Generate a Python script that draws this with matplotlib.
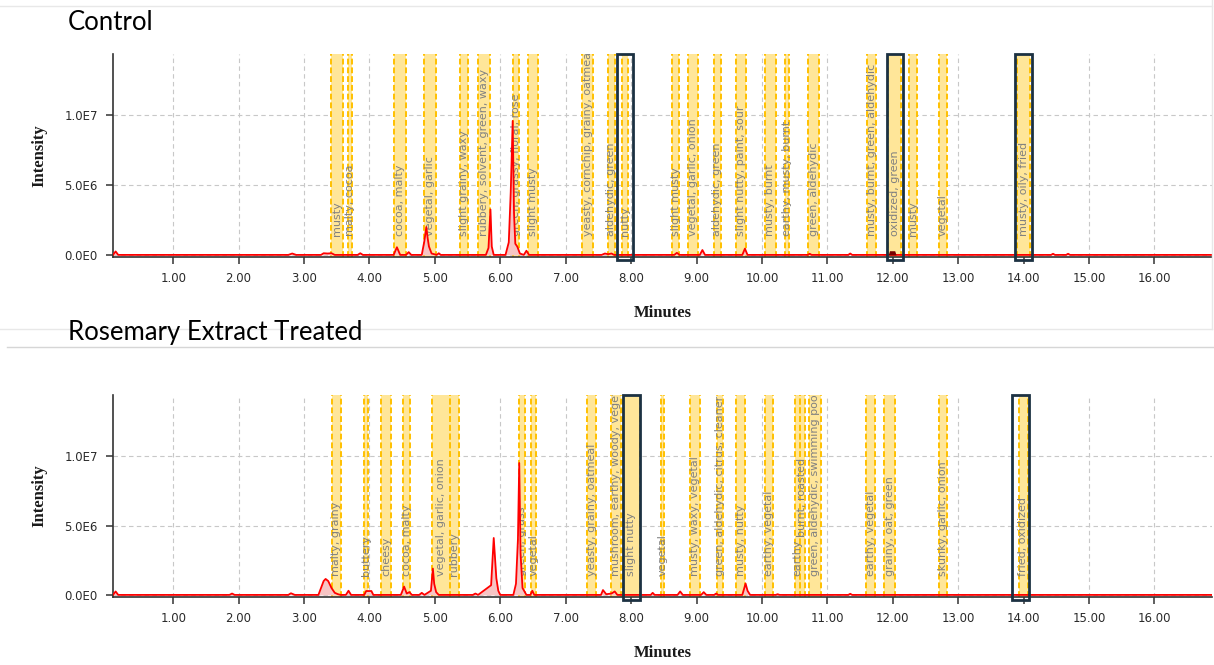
import matplotlib
matplotlib.use("Agg")
import matplotlib.pyplot as plt
from matplotlib.patches import Rectangle
from matplotlib.lines import Line2D

# chromatogram traces, time in minutes, intensity in units of 1e6
ctrl_time = [0.08, 0.12, 0.16, 0.25,
             2.76, 2.82, 2.88,
             3.26, 3.30, 3.36, 3.42, 3.47,
             3.82, 3.86, 3.90,
             4.37, 4.42, 4.47,
             4.56, 4.60, 4.64,
             4.80, 4.84, 4.87, 4.89, 4.91, 4.95,
             5.03, 5.06, 5.09,
             5.78, 5.82, 5.85, 5.87, 5.90,
             6.08, 6.13, 6.16, 6.19, 6.21, 6.23, 6.26, 6.30,
             6.36, 6.40, 6.44,
             7.55, 7.60, 7.65, 7.70, 7.74,
             8.66, 8.70, 8.74,
             9.05, 9.09, 9.13,
             9.70, 9.74, 9.78,
             10.70, 10.73, 10.76,
             11.32, 11.35, 11.38,
             14.42, 14.45, 14.48,
             14.65, 14.68, 14.71,
             16.88]
ctrl_int = [0.0, 0.25, 0.0, 0.0,
            0.0, 0.1, 0.0,
            0.0, 0.12, 0.1, 0.12, 0.0,
            0.0, 0.12, 0.0,
            0.0, 0.55, 0.0,
            0.0, 0.2, 0.0,
            0.0, 1.0, 2.0, 1.2, 0.6, 0.1,
            0.0, 0.12, 0.0,
            0.0, 0.5, 3.25, 0.6, 0.0,
            0.0, 0.9, 4.5, 9.6, 3.0, 0.8, 0.6, 0.1,
            0.0, 0.3, 0.0,
            0.0, 0.1, 0.05, 0.1, 0.0,
            0.0, 0.15, 0.0,
            0.0, 0.35, 0.0,
            0.0, 0.45, 0.0,
            0.0, 0.08, 0.0,
            0.0, 0.1, 0.0,
            0.0, 0.08, 0.0,
            0.0, 0.08, 0.0,
            0.0]

rose_time = [0.08, 0.12, 0.16, 0.25,
             1.86, 1.90, 1.94,
             2.76, 2.80, 2.86,
             3.22, 3.26, 3.30, 3.33, 3.37, 3.42, 3.47, 3.52, 3.56,
             3.64, 3.68, 3.72,
             3.92, 3.95, 4.03, 4.06,
             4.48, 4.53, 4.57, 4.61, 4.65,
             4.76, 4.80, 4.84,
             4.94, 4.97, 4.99, 5.02, 5.06,
             5.58, 5.62, 5.66,
             5.86, 5.90, 5.94, 5.97, 6.00,
             6.20, 6.24, 6.27, 6.29, 6.31, 6.34, 6.40,
             6.46, 6.49, 6.52,
             7.54, 7.57, 7.62, 7.70, 7.75, 7.79,
             8.30, 8.33, 8.36,
             8.71, 8.75, 8.79,
             9.07, 9.11, 9.15,
             9.27, 9.30, 9.33,
             9.70, 9.75, 9.78, 9.82,
             10.21, 10.24, 10.27,
             11.32, 11.35, 11.38,
             16.88]
rose_int = [0.0, 0.25, 0.0, 0.0,
            0.0, 0.1, 0.0,
            0.0, 0.12, 0.0,
            0.0, 0.5, 1.0, 1.15, 1.0, 0.5, 0.15, 0.05, 0.0,
            0.0, 0.3, 0.0,
            0.0, 0.28, 0.28, 0.0,
            0.0, 0.6, 0.1, 0.2, 0.0,
            0.0, 0.15, 0.0,
            0.3, 1.9, 0.8, 0.2, 0.0,
            0.0, 0.1, 0.0,
            0.7, 4.1, 1.2, 0.3, 0.0,
            0.0, 0.8, 4.0, 9.5, 3.0, 0.5, 0.0,
            0.0, 0.3, 0.0,
            0.0, 0.35, 0.05, 0.1, 0.25, 0.0,
            0.0, 0.15, 0.0,
            0.0, 0.25, 0.0,
            0.0, 0.2, 0.0,
            0.0, 0.1, 0.0,
            0.0, 0.82, 0.3, 0.0,
            0.0, 0.05, 0.0,
            0.0, 0.08, 0.0,
            0.0]

# highlighted (selected) peak in the control run
hl_time = [11.93, 11.95, 12.03, 12.05]
hl_int = [0.0, 0.3, 0.3, 0.0]

# aroma windows: start, end, descriptor
ctrl_start = [3.42, 3.67, 4.38, 4.84, 5.39, 5.66, 6.20, 6.42, 7.25, 7.65, 7.86, 8.63,
              8.87, 9.26, 9.60, 10.04, 10.35, 10.71, 11.60, 11.93, 12.25, 12.70, 13.90]
ctrl_end = [3.59, 3.74, 4.56, 5.02, 5.51, 5.85, 6.29, 6.58, 7.42, 7.75, 7.96, 8.73,
            9.03, 9.37, 9.75, 10.21, 10.41, 10.87, 11.75, 12.13, 12.37, 12.83, 14.10]
ctrl_labels = ["musty", "malty, cocoa", "cocoa, malty", "vegetal, garlic",
               "slight grainy, waxy", "rubbery, solvent, green, waxy",
               "green, grassy, floral, rose", "slight musty",
               "yeasty, cornchip, grainy, oatmeal", "aldehydic, green", "nutty",
               "slight musty", "vegetal, garlic, onion", "aldehydic, green",
               "slight nutty, paint, sour", "musty, burnt", "earthy, musty, burnt",
               "green, aldehydic", "musty, burnt, green, aldehydic",
               "oxidized, green", "musty", "vegetal", "musty, oily, fried"]
ctrl_boxes = [(7.79, 8.03), (11.91, 12.16), (13.87, 14.13)]

rose_start = [3.43, 3.92, 4.18, 4.52, 4.95, 5.23, 6.29, 6.47, 7.32, 7.69, 7.88, 8.45,
              8.90, 9.32, 9.61, 10.05, 10.50, 10.58, 10.72, 11.59, 11.87, 12.70, 13.93]
rose_end = [3.56, 3.98, 4.33, 4.62, 5.23, 5.37, 6.38, 6.55, 7.47, 7.85, 8.13, 8.50,
            9.05, 9.41, 9.74, 10.17, 10.58, 10.66, 10.90, 11.73, 12.04, 12.83, 14.06]
rose_labels = ["malty, grainy", "buttery", "cheesy", "cocoa, malty",
               "vegetal, garlic, onion", "rubbery", "green, grass", "vegetal",
               "yeasty, grainy, oatmeal", "mushroom, earthy, woody, vegetal",
               "slight nutty", "vegetal", "musty, waxy, vegetal",
               "green, aldehydic, citrus, cleaner", "musty, nutty", "earthy, vegetal",
               "earthy", "burnt, roasted", "green, aldehydic, swimming pool",
               "earthy, vegetal", "grainy, oat, green", "skunky, garlic, onion",
               "fried, oxidized"]
# label baseline heights (1e6); one descriptor sits higher to clear its neighbour
rose_label_y = [1.35] * 17 + [4.2] + [1.35] * 5
rose_boxes = [(7.88, 8.13), (13.83, 14.09)]

x_ticks = list(range(1, 17))
y_ticks = [0, 5e6, 1e7]
y_ticklabels = ["0.0E0", "5.0E6", "1.0E7"]

W, H = 1214, 665
fig = plt.figure(figsize=(W / 100, H / 100), dpi=100)


def draw_panel(ax, t, y, starts, ends, labels, boxes, label_y=None):
    if label_y is None:
        label_y = [1.35] * len(labels)
    ax.set_xlim(0.08, 16.88)
    ax.set_ylim(-0.15e6, 14.4e6)
    ax.set_axisbelow(True)
    for s, e, lab, ly in zip(starts, ends, labels, label_y):
        ax.axvspan(s, e, color="#ffe699", lw=0, zorder=1)
        for xv in (s, e):
            ax.axvline(xv, color="#ffc000", lw=1.4, ls=(0, (3, 1.5)), zorder=1.5)
        ax.text((s + e) / 2, ly * 1e6, lab, rotation=90, ha="center", va="bottom",
                fontsize=8, color="#808080", clip_on=True, zorder=2)
    yy = [v * 1e6 for v in y]
    ax.fill_between(t, 0, yy, color="#f7c4c4", lw=0, zorder=3)
    ax.plot(t, yy, color="#ff0000", lw=1.3, zorder=4)
    for x0, x1 in boxes:
        ax.add_patch(Rectangle((x0, -0.015), x1 - x0, 1.015,
                               transform=ax.get_xaxis_transform(), fill=False,
                               ec="#1c3142", lw=2, clip_on=False, zorder=6))
    ax.set_xticks(x_ticks)
    ax.set_xticklabels([f"{v:.2f}" for v in x_ticks])
    ax.set_yticks(y_ticks)
    ax.set_yticklabels(y_ticklabels)
    ax.grid(True, color="#c8c8c8", ls=(0, (4, 3)), lw=0.8)
    for side in ("top", "right"):
        ax.spines[side].set_visible(False)
    for side in ("left", "bottom"):
        ax.spines[side].set_color("#333333")
        ax.spines[side].set_linewidth(1.2)
    ax.tick_params(direction="out", length=5, width=1.1, color="#333333",
                   labelsize=8.5, labelcolor="#2a2a2a", pad=6)
    ax.set_xlabel("Minutes", family="Liberation Serif", fontweight="bold",
                  fontsize=12, color="#1a1a1a", labelpad=14)
    ax.set_ylabel("Intensity", family="Liberation Serif", fontweight="bold",
                  fontsize=12, color="#1a1a1a", labelpad=12)


ax1 = fig.add_axes([113 / W, 1 - 257 / H, 1099 / W, 203 / H])
draw_panel(ax1, ctrl_time, ctrl_int, ctrl_start, ctrl_end, ctrl_labels, ctrl_boxes)
ax1.fill_between(hl_time, 0, [v * 1e6 for v in hl_int], color="#7a0000", lw=0, zorder=5)

ax2 = fig.add_axes([113 / W, 1 - 597 / H, 1099 / W, 202 / H])
draw_panel(ax2, rose_time, rose_int, rose_start, rose_end, rose_labels, rose_boxes,
           rose_label_y)

fig.text(68 / W, 1 - 22 / H, "Control", fontsize=18.5, family="Lato", va="center")
fig.text(68 / W, 1 - 332 / H, "Rosemary Extract Treated", fontsize=18.5, family="Lato",
         va="center")

# faint screenshot frames around the panels
for xs, ys, c in [((0, 1212), (6, 6), "#e8e8e8"), ((1212, 1212), (0, 329), "#e8e8e8"),
                  ((0, 1212), (329, 329), "#e8e8e8"), ((7, 1214), (347, 347), "#d6d6d6")]:
    fig.add_artist(Line2D([x / W for x in xs], [1 - y / H for y in ys],
                          color=c, lw=1, transform=fig.transFigure))

fig.savefig("out.png", dpi=100, facecolor="white")
